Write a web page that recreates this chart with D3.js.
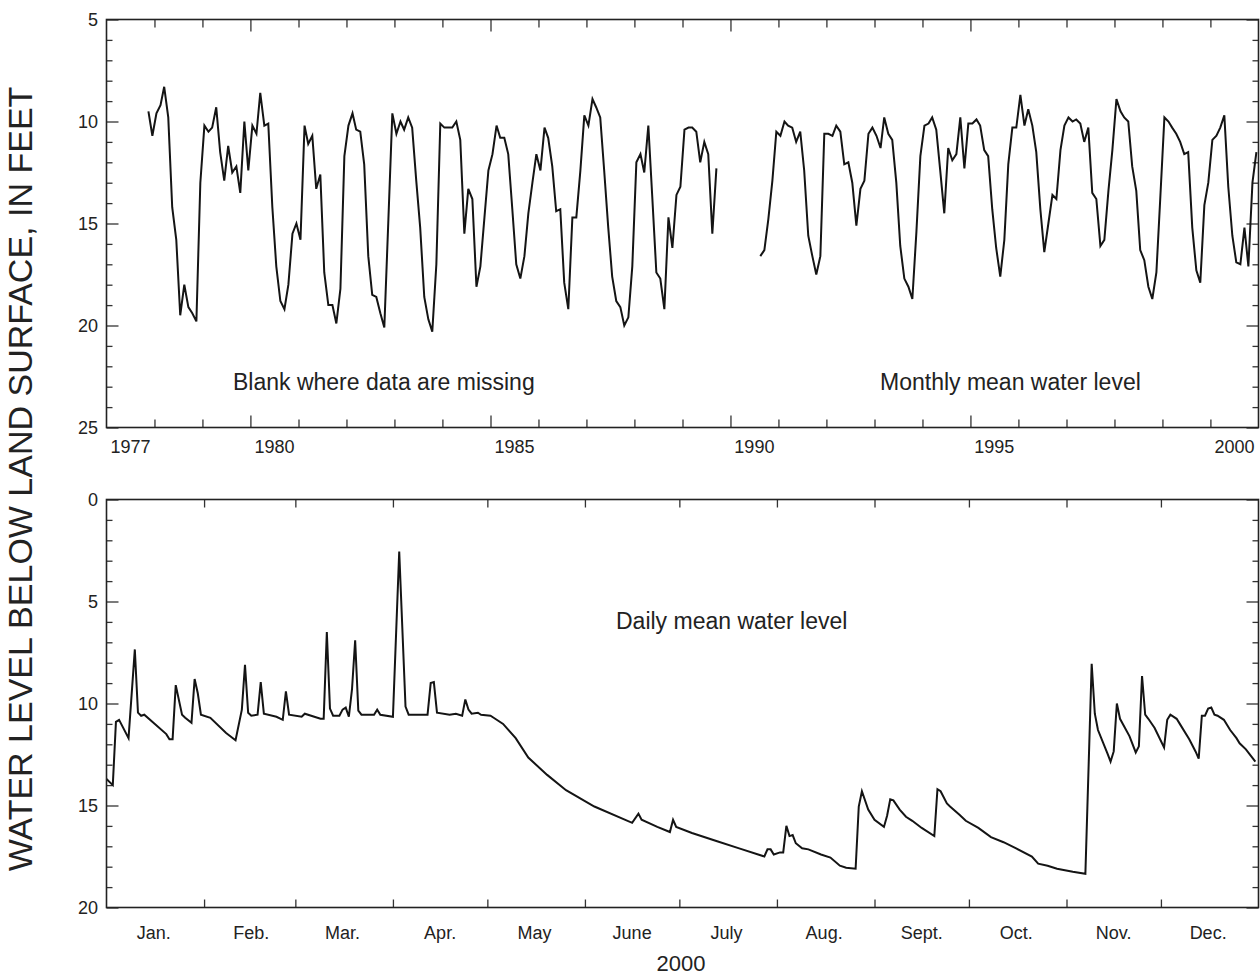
<!DOCTYPE html>
<html lang="en">
<head>
<meta charset="UTF-8">
<title>Water level below land surface</title>
<style>
  body { margin: 0; background: #fff; }
  svg { display: block; font-family: "Liberation Sans", Arial, sans-serif; }
  .tick line { stroke: #333; stroke-width: 1.3px; }
  .tick text { fill: #222; font-size: 18px; }
  .frame { fill: none; stroke: #222; stroke-width: 1.6px; }
  .level { fill: none; stroke: #141414; stroke-width: 2px; }
  .note { fill: #222; font-size: 23px; }
</style>
</head>
<body>
<svg id="chart" width="1260" height="977"></svg>
<script src="https://cdn.jsdelivr.net/npm/d3@7"></script>
<script>
// monthly mean water level, one value per month from Nov 1977 to Dec 2000, null = missing
const monthlyStartYear = 1977, monthlyStartMonth = 10;
const monthlyLevel = [
  9.5, 10.7,
  9.6, 9.2, 8.3, 9.8, 14.2, 15.8, 19.5, 18.0, 19.1, 19.4, 19.8, 13.0,
  10.2, 10.5, 10.3, 9.3, 11.5, 12.9, 11.2, 12.5, 12.2, 13.5, 10.0, 12.4,
  10.2, 10.6, 8.6, 10.2, 10.1, 14.2, 17.1, 18.8, 19.2, 18.0, 15.5, 15.0,
  15.8, 10.2, 11.1, 10.7, 13.3, 12.6, 17.4, 19.0, 19.0, 19.9, 18.2, 11.7,
  10.2, 9.6, 10.4, 10.5, 12.1, 16.6, 18.5, 18.6, 19.4, 20.1, 14.8, 9.6,
  10.6, 10.0, 10.4, 9.8, 10.3, 12.9, 15.2, 18.6, 19.7, 20.3, 17.0, 10.1,
  10.3, 10.3, 10.3, 10.0, 10.9, 15.5, 13.3, 13.8, 18.1, 17.1, 14.7, 12.4,
  11.6, 10.2, 10.8, 10.8, 11.6, 14.3, 17.0, 17.7, 16.6, 14.5, 13.0, 11.6,
  12.4, 10.3, 10.8, 12.2, 14.4, 14.3, 17.9, 19.2, 14.7, 14.7, 12.4, 9.7,
  10.2, 8.9, 9.3, 9.8, 12.4, 15.2, 17.6, 18.8, 19.1, 20.0, 19.6, 17.1,
  12.0, 11.6, 12.5, 10.2, 13.7, 17.4, 17.7, 19.2, 14.7, 16.2, 13.6, 13.2,
  10.4, 10.3, 10.3, 10.5, 12.0, 11.0, 11.6, 15.5, 12.3, null, null, null,
  null, null, null, null, null, null, null, 16.6, 16.3, 14.8, 12.9, 10.5,
  10.7, 10.0, 10.2, 10.3, 11.0, 10.5, 12.4, 15.6, 16.6, 17.5, 16.6, 10.6,
  10.6, 10.7, 10.2, 10.5, 12.1, 12.0, 13.0, 15.1, 13.3, 12.9, 10.6, 10.3,
  10.7, 11.3, 9.8, 10.6, 10.9, 13.0, 16.1, 17.7, 18.1, 18.7, 15.4, 11.7,
  10.2, 10.1, 9.8, 10.4, 12.4, 14.5, 11.3, 11.9, 11.6, 9.8, 12.3, 10.1,
  10.1, 9.9, 10.2, 11.4, 11.7, 14.3, 16.2, 17.6, 15.8, 12.1, 10.3, 10.3,
  8.7, 10.2, 9.4, 10.2, 11.5, 14.3, 16.4, 15.0, 13.6, 13.8, 11.4, 10.2,
  9.8, 10.0, 9.9, 10.1, 11.0, 10.3, 13.5, 13.8, 16.1, 15.8, 13.4, 11.4,
  8.9, 9.5, 9.8, 10.0, 12.2, 13.4, 16.3, 16.8, 18.1, 18.7, 17.4, 13.7,
  9.8, 10.0, 10.3, 10.6, 11.0, 11.6, 11.5, 15.2, 17.3, 17.9, 14.1, 13.0,
  10.9, 10.7, 10.3, 9.7, 13.2, 15.6, 16.9, 17.0, 15.2, 17.1, 13.0, 11.5
];

// daily mean water level in 2000: days after Jan. 1 and level at each break in the trace
const dailyOffset = [
  0, 2, 3, 4, 7, 9, 10, 11, 12, 19,
  20, 21, 22, 24, 25, 27, 28, 29, 30, 33,
  38, 41, 43, 44, 45, 46, 48, 49, 50, 54,
  56, 57, 58, 62, 63, 68, 69, 70, 71, 72,
  74, 75, 76, 77, 78, 79, 80, 81, 85, 86,
  87, 91, 93, 95, 96, 102, 103, 104, 105, 109,
  111, 113, 114, 115, 116, 118, 119, 122, 123, 126,
  130, 134, 140, 146, 155, 167, 169, 170, 175, 179,
  180, 181, 186, 194, 201, 209, 210, 211, 212, 214,
  215, 216, 217, 218, 219, 221, 223, 227, 230, 233,
  235, 238, 239, 240, 242, 244, 247, 248, 249, 250,
  252, 254, 256, 259, 263, 264, 265, 267, 268, 271,
  273, 277, 281, 285, 289, 294, 296, 299, 302, 307,
  311, 313, 314, 315, 318, 319, 320, 321, 322, 325,
  327, 328, 329, 330, 331, 333, 336, 337, 338, 340,
  341, 344, 346, 347, 348, 349, 350, 351, 352, 353,
  355, 357, 359, 360, 362, 365
];
const dailyLevel = [
  13.7, 14.0, 10.9, 10.8, 11.7, 7.35, 10.45, 10.6, 10.55, 11.5,
  11.75, 11.75, 9.1, 10.55, 10.7, 10.95, 8.8, 9.5, 10.55, 10.7,
  11.45, 11.8, 10.3, 8.1, 10.45, 10.6, 10.55, 8.95, 10.5, 10.65,
  10.8, 9.4, 10.55, 10.65, 10.5, 10.75, 10.75, 6.5, 10.25, 10.6,
  10.6, 10.3, 10.2, 10.65, 9.3, 6.9, 10.35, 10.55, 10.55, 10.3,
  10.55, 10.65, 2.55, 10.15, 10.55, 10.55, 9.0, 8.95, 10.45, 10.55,
  10.5, 10.6, 9.8, 10.3, 10.5, 10.45, 10.55, 10.6, 10.7, 11.0,
  11.7, 12.65, 13.5, 14.25, 15.05, 15.85, 15.4, 15.7, 16.05, 16.3,
  15.7, 16.05, 16.35, 16.75, 17.1, 17.5, 17.15, 17.15, 17.4, 17.3,
  17.3, 16.0, 16.5, 16.45, 16.85, 17.1, 17.15, 17.4, 17.55, 17.95,
  18.05, 18.1, 15.05, 14.3, 15.2, 15.7, 16.05, 15.5, 14.7, 14.75,
  15.2, 15.55, 15.75, 16.1, 16.5, 14.2, 14.3, 14.9, 15.05, 15.45,
  15.75, 16.1, 16.55, 16.8, 17.1, 17.5, 17.85, 17.95, 18.1, 18.25,
  18.35, 8.05, 10.5, 11.3, 12.45, 12.85, 12.35, 10.0, 10.75, 11.6,
  12.4, 12.1, 8.65, 10.55, 10.75, 11.2, 12.15, 10.8, 10.55, 10.75,
  11.0, 11.75, 12.35, 12.7, 10.6, 10.6, 10.25, 10.2, 10.55, 10.6,
  10.8, 11.3, 11.7, 11.95, 12.25, 12.85
];

const yearLabels = [1977, 1980, 1985, 1990, 1995, 2000];
const majorYears = [1980, 1985, 1990, 1995];
const monthLabels = ["Jan.", "Feb.", "Mar.", "Apr.", "May", "June", "July", "Aug.", "Sept.", "Oct.", "Nov.", "Dec."];
const topTicks = [5, 10, 15, 20, 25];
const bottomTicks = [0, 5, 10, 15, 20];

const left = 106.5, right = 1258.5;
const svg = d3.select("#chart");

// ---- scales
const xYears = d3.scaleTime()
  .domain([new Date(1977, 0, 1), new Date(2001, 0, 1)])
  .range([left, right]);
const yTop = d3.scaleLinear().domain([5, 25]).range([19.5, 427.5]);

const xDays = d3.scaleTime()
  .domain([new Date(2000, 0, 1), new Date(2001, 0, 1)])
  .range([left, right]);
const yBottom = d3.scaleLinear().domain([0, 20]).range([499.5, 907.5]);

// ---- data rows
const monthly = monthlyLevel.map((v, i) => ({
  date: new Date(monthlyStartYear, monthlyStartMonth + i, 16),
  level: v
}));
const daily = dailyOffset.map((d, i) => ({
  date: d3.timeDay.offset(new Date(2000, 0, 1), d),
  level: dailyLevel[i]
}));

// ---- helpers
function yTicks(y, majors) {
  const [a, b] = y.domain();
  const minors = d3.range(a, b + 1).filter(v => !majors.includes(v));
  const g = svg.append("g");
  g.append("g").attr("transform", `translate(${left},0)`)
    .call(d3.axisLeft(y).tickValues(minors).tickSize(-6).tickFormat(""));
  g.append("g").attr("transform", `translate(${left},0)`)
    .call(d3.axisLeft(y).tickValues(majors).tickSize(-12).tickPadding(8.5));
  g.append("g").attr("transform", `translate(${right},0)`)
    .call(d3.axisRight(y).tickValues(minors).tickSize(-6).tickFormat(""));
  g.append("g").attr("transform", `translate(${right},0)`)
    .call(d3.axisRight(y).tickValues(majors).tickSize(-12).tickFormat(""));
  g.selectAll(".domain").remove();
}

function xTicks(x, values, size, y0, y1) {
  const g = svg.append("g");
  g.append("g").attr("transform", `translate(0,${y1})`)
    .call(d3.axisBottom(x).tickValues(values).tickSize(-size).tickFormat(""));
  g.append("g").attr("transform", `translate(0,${y0})`)
    .call(d3.axisTop(x).tickValues(values).tickSize(-size).tickFormat(""));
  g.selectAll(".domain").remove();
}

// ---- top panel: monthly
const [t0, t1] = yTop.range();
yTicks(yTop, topTicks);
const minorYears = d3.range(1978, 2001).filter(y => !majorYears.includes(y)).map(y => new Date(y, 0, 1));
xTicks(xYears, minorYears, 8, t0, t1);
xTicks(xYears, majorYears.map(y => new Date(y, 0, 1)), 12, t0, t1);

svg.append("g").selectAll("text")
  .data(yearLabels)
  .join("text")
  .attr("x", y => xYears(new Date(y, 6, 2)))
  .attr("y", 453)
  .attr("text-anchor", "middle")
  .attr("font-size", 18)
  .attr("fill", "#222")
  .text(y => y);

svg.append("path")
  .datum(monthly)
  .attr("class", "level")
  .attr("d", d3.line()
    .defined(d => d.level != null)
    .x(d => xYears(d.date))
    .y(d => yTop(d.level)));

svg.append("rect").attr("class", "frame")
  .attr("x", left).attr("y", t0)
  .attr("width", right - left).attr("height", t1 - t0);

svg.append("text").attr("class", "note")
  .attr("x", 233).attr("y", 390)
  .text("Blank where data are missing");
svg.append("text").attr("class", "note")
  .attr("x", 880).attr("y", 390)
  .text("Monthly mean water level");

// ---- bottom panel: daily, 2000
const [b0, b1] = yBottom.range();
yTicks(yBottom, bottomTicks);
xTicks(xDays, d3.timeMonth.range(new Date(2000, 1, 1), new Date(2000, 11, 2)), 8, b0, b1);

svg.append("g").selectAll("text")
  .data(monthLabels)
  .join("text")
  .attr("x", (m, i) => xDays(new Date(2000, i, 16)))
  .attr("y", 939)
  .attr("text-anchor", "middle")
  .attr("font-size", 18)
  .attr("fill", "#222")
  .text(m => m);

svg.append("path")
  .datum(daily)
  .attr("class", "level")
  .attr("d", d3.line()
    .x(d => xDays(d.date))
    .y(d => yBottom(d.level)));

svg.append("rect").attr("class", "frame")
  .attr("x", left).attr("y", b0)
  .attr("width", right - left).attr("height", b1 - b0);

svg.append("text").attr("class", "note")
  .attr("x", 616).attr("y", 629)
  .text("Daily mean water level");

// ---- axis titles
svg.append("text")
  .attr("x", 681).attr("y", 971)
  .attr("text-anchor", "middle")
  .attr("font-size", 22)
  .attr("fill", "#222")
  .text("2000");

svg.append("text")
  .attr("transform", "translate(32,479) rotate(-90)")
  .attr("text-anchor", "middle")
  .attr("font-size", 34)
  .attr("fill", "#222")
  .text("WATER LEVEL BELOW LAND SURFACE, IN FEET");
</script>
</body>
</html>
